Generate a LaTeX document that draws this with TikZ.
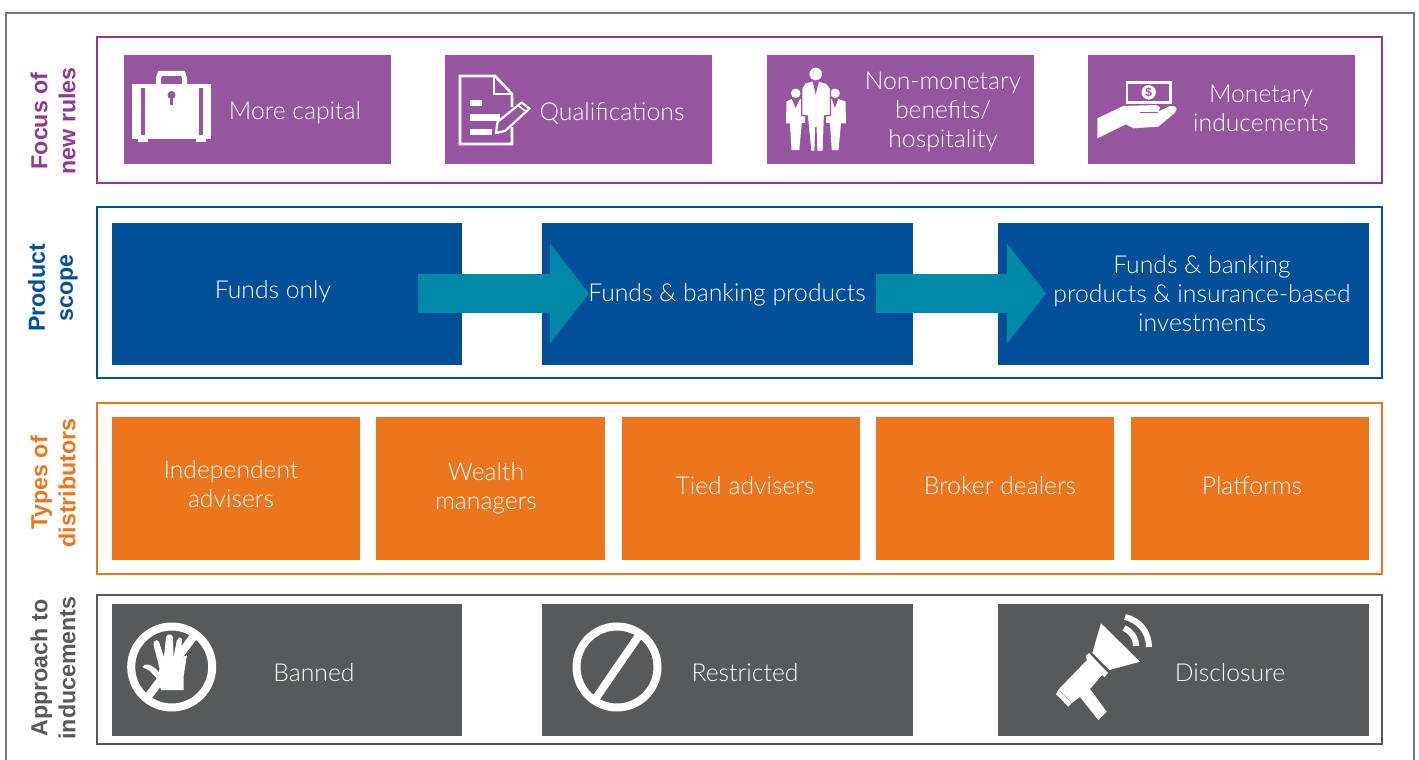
\documentclass[tikz,border=0pt]{standalone}
\usepackage{fontspec}
\setmainfont{Lato}[UprightFont=* Light]
\newfontfamily\sidefont{Liberation Sans}[UprightFont=* Bold]
\usepackage{tikz}
\usetikzlibrary{arrows.meta}
\definecolor{rulepurple}{HTML}{8E3A95}
\definecolor{boxpurple}{HTML}{96569F}
\definecolor{scopeblue}{HTML}{004F98}
\definecolor{arrowteal}{HTML}{0088A8}
\definecolor{typeorange}{HTML}{EC751E}
\definecolor{bandgray}{HTML}{58595B}
\definecolor{outergray}{HTML}{77787B}
\tikzset{
	frame/.style={draw=#1,line width=2.4,fill=white,inner sep=0,minimum width=1285},
	cell/.style={fill=#1,inner sep=0},
	celltext/.style={text=white,align=center,font=\fontsize{24.7}{29}\selectfont},
	sidetext/.style={text=#1,align=center,rotate=90,font=\sidefont\fontsize{23.2}{28}\selectfont},
	bigarrow/.style={arrowteal,line width=39,-{Triangle[length=39pt,width=98pt]}},
}
\begin{document}
\begin{tikzpicture}[x=1pt,y=-1pt]
	\useasboundingbox (0,0) rectangle (1419,760);
	
	% 外框,下边没有封口
	\draw[outergray,line width=2.5] (6,760) -- (6,13) -- (1414,13) -- (1414,760);
	
	% 四个色带的边框
	\node[frame=rulepurple,minimum height=146] (rulesframe) at (739.5,110) {};
	\node[frame=scopeblue,minimum height=171] (scopeframe) at (739.5,292.5) {};
	\node[frame=typeorange,minimum height=171] (typesframe) at (739.5,488.5) {};
	\node[frame=bandgray,minimum height=149] (approachframe) at (739.5,669.5) {};
	
	% 左侧竖排标题
	\node[sidetext=rulepurple] (rulestitle) at (53,121) {Focus of\\new rules};
	\node[sidetext=scopeblue] (scopetitle) at (53,288) {Product\\scope};
	\node[sidetext=typeorange] (typestitle) at (53,483) {Types of\\distributors};
	\node[sidetext=bandgray] (approachtitle) at (53,668) {Approach to\\inducements};
	
	% 第一行色块
	\node[cell=boxpurple,minimum width=267,minimum height=109] (capitalbox) at (257.5,109.5) {};
	\node[cell=boxpurple,minimum width=267,minimum height=109] (qualbox) at (578.5,109.5) {};
	\node[cell=boxpurple,minimum width=267,minimum height=109] (benefitbox) at (900.5,109.5) {};
	\node[cell=boxpurple,minimum width=267,minimum height=109] (monetarybox) at (1221.5,109.5) {};
	\node[celltext] (capitaltext) at (295,113) {More capital};
	\node[celltext] (qualtext) at (612,113) {Qualifications};
	\node[celltext] (benefittext) at (943,112) {Non-monetary\\benefits/\\hospitality};
	\node[celltext] (monetarytext) at (1261,108.5) {Monetary\\inducements};
	
	% 第二行色块和箭头
	\node[cell=scopeblue,minimum width=350,minimum height=142] (fundsbox) at (287,294) {};
	\node[cell=scopeblue,minimum width=371,minimum height=142] (bankingbox) at (727.5,294) {};
	\node[cell=scopeblue,minimum width=371,minimum height=142] (insurancebox) at (1183.5,294) {};
	\coordinate (arrowastart) at (418,293.5);
	\coordinate (arrowaend) at (589,293.5);
	\coordinate (arrowbstart) at (876,293.5);
	\coordinate (arrowbend) at (1046,293.5);
	\draw[bigarrow] (arrowastart) -- (arrowaend);
	\draw[bigarrow] (arrowbstart) -- (arrowbend);
	\node[celltext] (fundstext) at (273,292) {Funds only};
	\node[celltext] (bankingtext) at (727,294.5) {Funds \& banking products};
	\node[celltext] (insurancetext) at (1202,293.5) {Funds \& banking\\products \& insurance-based\\investments};
	
	% 第三行色块
	\node[cell=typeorange,minimum width=248,minimum height=143] (independentbox) at (236,488.5) {};
	\node[cell=typeorange,minimum width=229,minimum height=143] (wealthbox) at (490.5,488.5) {};
	\node[cell=typeorange,minimum width=238,minimum height=143] (tiedbox) at (741,488.5) {};
	\node[cell=typeorange,minimum width=238,minimum height=143] (brokerbox) at (995,488.5) {};
	\node[cell=typeorange,minimum width=238,minimum height=143] (platformbox) at (1250,488.5) {};
	\node[celltext] (independenttext) at (231,484.5) {Independent\\advisers};
	\node[celltext] (wealthtext) at (486,488.5) {Wealth\\managers};
	\node[celltext] (tiedtext) at (745,486) {Tied advisers};
	\node[celltext] (brokertext) at (1000,486) {Broker dealers};
	\node[celltext] (platformtext) at (1252,486) {Platforms};
	
	% 第四行色块
	\node[cell=bandgray,minimum width=350,minimum height=132] (bannedbox) at (287,670) {};
	\node[cell=bandgray,minimum width=371,minimum height=132] (restrictedbox) at (727.5,670) {};
	\node[cell=bandgray,minimum width=371,minimum height=132] (disclosurebox) at (1183.5,670) {};
	\node[celltext] (bannedtext) at (314,673) {Banned};
	\node[celltext] (restrictedtext) at (745,673) {Restricted};
	\node[celltext] (disclosuretext) at (1230,673) {Disclosure};
	
	% 公文包
	\fill[white] (132,84) rectangle (211,139);
	\fill[white] (138,139) rectangle (148,142);
	\fill[white] (196,139) rectangle (206,142);
	\draw[white,line width=5] (158.5,84) -- (158.5,78) -- (160,73.5) -- (183,73.5) -- (184.5,78) -- (184.5,84);
	\fill[boxpurple] (140.5,88) rectangle (144.5,135);
	\fill[boxpurple] (198.5,88) rectangle (202.5,135);
	\fill[boxpurple] (171.5,95) circle (4);
	\fill[boxpurple] (170,95) rectangle (173,105);
	
	% 文件和铅笔
	\draw[white,line width=2.6] (512,107) -- (512,94) -- (495,76) -- (460,76) -- (460,144) -- (512,144) -- (512,127);
	\draw[white,line width=2.6] (494,77) -- (494,94) -- (512,94);
	\fill[white] (470,99.5) rectangle (482,105.5);
	\fill[white] (470,114) rectangle (500,120.5);
	\fill[white] (470,128.5) rectangle (492,135);
	\filldraw[draw=white,fill=boxpurple,line width=2.2,line join=round] (496,133) -- (497.5,122) -- (521.5,102.5) -- (529.5,108.5) -- (505,131) -- cycle;
	\draw[white,line width=1.5] (518,105.5) -- (526,111.5);
	
	% 三个人
	\fill[white] (795.7,93.3) circle (4.8);
	\fill[white] (835,93.3) circle (4.8);
	\fill[white] (786.5,101.5) -- (791.7,99) -- (795.7,108.3) -- (800,99) -- (805,101) -- (805,122.7) -- (801.7,123.3) -- (799.3,150) -- (791.5,150) -- (790,123.3) -- (786,123.3) -- cycle;
	\fill[white] (826,101) -- (831.7,99) -- (835,108.3) -- (838.3,99) -- (845.5,101.5) -- (846,123.3) -- (841,123.3) -- (838.5,150) -- (831.7,150) -- (830,123.3) -- (826,122.7) -- cycle;
	\fill[white] (815.7,74) circle (6.3);
	\filldraw[draw=boxpurple,fill=white,line width=1.3] (805,82.7) -- (813.3,80.7) -- (815.7,91.7) -- (818.3,80.7) -- (826.7,83.3) -- (830.5,88.3) -- (830.5,115.5) -- (824.5,116) -- (823.3,151.5) -- (816.7,151.5) -- (815.9,127) -- (815,151.5) -- (810.7,151.5) -- (807.3,116) -- (801.8,115.5) -- (801.8,88.3) -- cycle;
	
	% 手和钞票
	\draw[white,line width=2.2] (1127,82.5) rectangle (1170.5,102.5);
	\fill[white] (1148.7,92.3) circle (7.2);
	\node[text=boxpurple,inner sep=0,font=\sidefont\fontsize{12}{12}\selectfont] (dollarsign) at (1148.7,92.3) {\$};
	\fill[white,line join=round] (1097.3,118.3) -- (1123.3,106) -- (1156.5,105) -- (1160,107.5) -- (1158.5,111.5) -- (1170,106) -- (1175,106.5) -- (1176.7,109) -- (1175,112.7) -- (1158.3,126.7) -- (1133.3,128.3) -- (1126,124.3) -- (1097.3,138.3) -- cycle;
	\draw[boxpurple,line width=1.5] (1140,112.5) -- (1158,112.5);
	
	% 禁止的手势
	\draw[white,line width=8] (171.7,667) circle (40.5);
	\draw[white,line width=8] (197,632) -- (147,698);
	\fill[white,line join=round] (142.5,667) -- (145,664.5) -- (150,665) -- (155,668) -- (159,672) -- (159.5,668) -- (153.5,645) -- (154,641.5) -- (157,640) -- (159,642) -- (164,657) -- (166,637) -- (168,634.5) -- (171,634.5) -- (173,637) -- (173.5,657) -- (177,640) -- (179.5,637.5) -- (182,639) -- (180.5,658) -- (187,655) -- (183.5,677) -- (183.5,690) -- (161,690) -- (158,680) -- (150,671) -- cycle;
	
	% 限制的圆圈
	\draw[white,line width=8] (617,667) circle (40.5);
	\draw[white,line width=8] (640,634) -- (596,698);
	
	% 喇叭
	\fill[white] (1101,623.3) -- (1140,661.7) -- (1109.3,670) -- (1092.3,652.7) -- cycle;
	\fill[white] (1085.5,656) -- (1089,653) -- (1108,673) -- (1104.5,677) -- (1102,675) -- (1090,689) -- (1106.7,711.7) -- (1098.3,720) -- (1080,697) -- (1071.7,703) -- (1068.3,706.7) -- (1056,694) -- (1059,689) -- (1087,660) -- cycle;
	\draw[lightgray,line width=0.8] (1059,690) -- (1071.5,702.5);
	\draw[white,line width=6] (1149,647) .. controls (1149,632) and (1139,620) .. (1125,617);
	\draw[white,line width=6] (1136,646) .. controls (1136,638) and (1131,631) .. (1124,628);
\end{tikzpicture}
\end{document}
